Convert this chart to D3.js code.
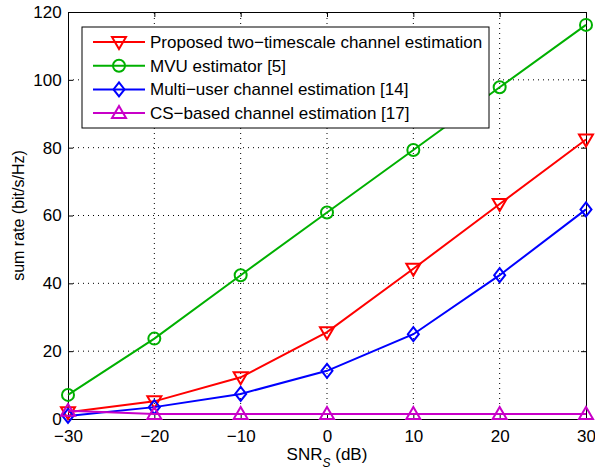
<!DOCTYPE html>
<html>
<head>
<meta charset="utf-8">
<script src="https://cdn.jsdelivr.net/npm/d3@7"></script>
<style>
  body { margin: 0; background: #fff; }
  svg text { font-family: "Liberation Sans", Arial, sans-serif; fill: #000; }
</style>
</head>
<body>
<svg id="chart" width="595" height="469"></svg>
<script>
// x values (SNR_S in dB)
const snr = [-30, -20, -10, 0, 10, 20, 30];

// series values
const proposed = [2.0, 5.2, 12.3, 25.6, 44.3, 63.4, 82.4];
const mvu = [7.1, 23.7, 42.4, 60.9, 79.3, 97.8, 116.2];
const multiUser = [0.9, 3.5, 7.4, 14.2, 25.0, 42.4, 61.8];
const csBased = [2.4, 1.5, 1.5, 1.5, 1.5, 1.5, 1.5];

const xTicks = [-30, -20, -10, 0, 10, 20, 30];
const yTicks = [0, 20, 40, 60, 80, 100, 120];

const seriesNames = [
  'Proposed two\u2212timescale channel estimation',
  'MVU estimator [5]',
  'Multi\u2212user channel estimation [14]',
  'CS\u2212based channel estimation [17]'
];

const series = [
  { name: seriesNames[0], values: proposed, color: '#ff0000', marker: 'tdown' },
  { name: seriesNames[1], values: mvu, color: '#00b000', marker: 'circle' },
  { name: seriesNames[2], values: multiUser, color: '#0000ff', marker: 'diamond' },
  { name: seriesNames[3], values: csBased, color: '#c800c8', marker: 'tup' }
];

const margin = { left: 68, right: 9, top: 12, bottom: 50 };
const width = 595, height = 469;
const svg = d3.select('#chart');

const x = d3.scaleLinear().domain([-30, 30]).range([margin.left, width - margin.right]);
const y = d3.scaleLinear().domain([0, 120]).range([height - margin.bottom, margin.top]);

// dotted grid
const grid = svg.append('g');
xTicks.slice(1, -1).forEach(t => {
  grid.append('line')
    .attr('x1', x(t)).attr('x2', x(t))
    .attr('y1', y(0)).attr('y2', y(120))
    .attr('stroke', '#000').attr('stroke-width', 1)
    .attr('stroke-dasharray', '1,4');
});
yTicks.slice(1, -1).forEach(t => {
  grid.append('line')
    .attr('x1', x(-30)).attr('x2', x(30))
    .attr('y1', y(t)).attr('y2', y(t))
    .attr('stroke', '#000').attr('stroke-width', 1)
    .attr('stroke-dasharray', '1,4');
});

// axes with inner ticks
const xAxis = svg.append('g')
  .attr('transform', `translate(0,${y(0)})`)
  .call(d3.axisBottom(x).tickValues(xTicks).tickSizeInner(-5).tickSizeOuter(0)
    .tickFormat(d => d < 0 ? '\u2212' + Math.abs(d) : d));
const yAxis = svg.append('g')
  .attr('transform', `translate(${x(-30)},0)`)
  .call(d3.axisLeft(y).tickValues(yTicks).tickSizeInner(-5).tickSizeOuter(0));
const xTop = svg.append('g')
  .attr('transform', `translate(0,${y(120)})`)
  .call(d3.axisTop(x).tickValues(xTicks).tickSizeInner(-5).tickSizeOuter(0).tickFormat(''));
const yRight = svg.append('g')
  .attr('transform', `translate(${x(30)},0)`)
  .call(d3.axisRight(y).tickValues(yTicks).tickSizeInner(-5).tickSizeOuter(0).tickFormat(''));

[xAxis, yAxis, xTop, yRight].forEach(a => {
  a.selectAll('path').attr('stroke', '#000').attr('stroke-width', 1);
  a.selectAll('line').attr('stroke', '#000');
  a.selectAll('text').attr('font-size', 17).attr('fill', '#000');
});
xAxis.selectAll('text').attr('dy', '1.15em');
yAxis.selectAll('text').attr('dx', '-0.2em');

// axis labels
svg.append('text')
  .attr('x', x(0)).attr('y', 460)
  .attr('text-anchor', 'middle').attr('font-size', 17)
  .html('SNR<tspan baseline-shift="sub" font-size="12" font-style="italic">S</tspan> (dB)');
svg.append('text')
  .attr('transform', `translate(24,${(y(0) + y(120)) / 2}) rotate(-90)`)
  .attr('text-anchor', 'middle').attr('font-size', 16)
  .text('sum rate (bit/s/Hz)');

function drawMarker(g, type, cx, cy, color) {
  if (type === 'circle') {
    g.append('circle').attr('cx', cx).attr('cy', cy).attr('r', 6)
      .attr('fill', 'none').attr('stroke', color).attr('stroke-width', 2);
  } else if (type === 'diamond') {
    g.append('path')
      .attr('d', `M${cx},${cy - 7}L${cx + 5.5},${cy}L${cx},${cy + 7}L${cx - 5.5},${cy}Z`)
      .attr('fill', 'none').attr('stroke', color).attr('stroke-width', 2);
  } else if (type === 'tdown') {
    g.append('path')
      .attr('d', `M${cx - 7},${cy - 5}L${cx + 7},${cy - 5}L${cx},${cy + 7}Z`)
      .attr('fill', 'none').attr('stroke', color).attr('stroke-width', 2);
  } else if (type === 'tup') {
    g.append('path')
      .attr('d', `M${cx - 7},${cy + 5}L${cx + 7},${cy + 5}L${cx},${cy - 7}Z`)
      .attr('fill', 'none').attr('stroke', color).attr('stroke-width', 2);
  }
}

const line = d3.line().x(d => x(d[0])).y(d => y(d[1]));

series.forEach(s => {
  const g = svg.append('g');
  const pts = snr.map((v, i) => [v, s.values[i]]);
  g.append('path').datum(pts).attr('d', line)
    .attr('fill', 'none').attr('stroke', s.color).attr('stroke-width', 2);
  pts.forEach(p => drawMarker(g, s.marker, x(p[0]), y(p[1]), s.color));
});

// legend
const lg = svg.append('g');
lg.append('rect')
  .attr('x', 82).attr('y', 27).attr('width', 407).attr('height', 101)
  .attr('fill', '#fff').attr('stroke', '#000').attr('stroke-width', 1);
series.forEach((s, i) => {
  const ly = 42 + i * 23.7;
  lg.append('line').attr('x1', 93).attr('x2', 145).attr('y1', ly).attr('y2', ly)
    .attr('stroke', s.color).attr('stroke-width', 2);
  drawMarker(lg, s.marker, 119, ly, s.color);
  lg.append('text').attr('x', 150).attr('y', ly).attr('dy', '0.35em')
    .attr('font-size', 17).text(s.name);
});
</script>
</body>
</html>
